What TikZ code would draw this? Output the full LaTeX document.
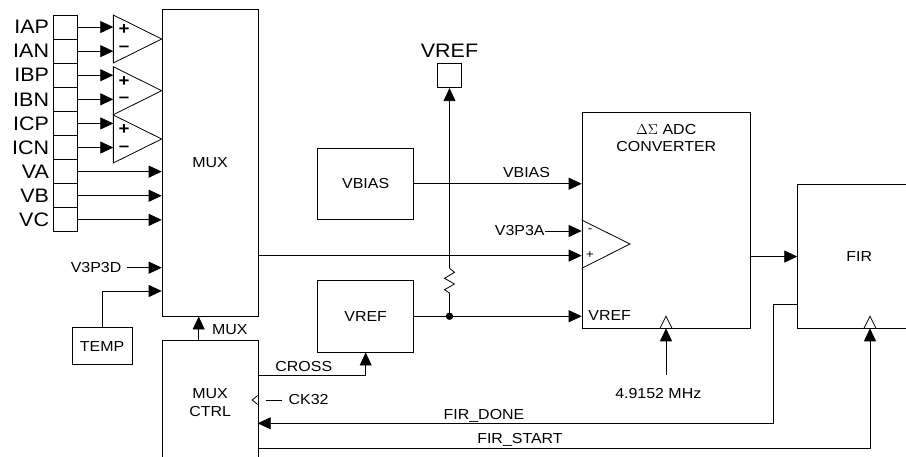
\documentclass[tikz,border=0pt]{standalone}
\usepackage{fontspec}
\setmainfont[FakeStretch=1.1]{Liberation Sans}
\usetikzlibrary{arrows.meta,positioning}

\begin{document}
\begin{tikzpicture}[x=1pt,y=-1pt,line width=0.8pt,
  every node/.style={inner sep=0pt,font=\fontsize{14.5}{16}\selectfont},
  block/.style={draw,rectangle,anchor=north west,align=center},
  pinbox/.style={draw,rectangle,minimum width=24.4pt,minimum height=24.1pt},
  pinlabel/.style={font=\fontsize{19.5}{21}\selectfont},
  sign/.style={font=\fontsize{17}{17}\selectfont\bfseries},
  smallsign/.style={font=\fontsize{12}{12}\selectfont},
  arr/.style={-{Triangle[length=13pt,width=12pt]}}]
\useasboundingbox (0,0) rectangle (906,457);
\clip (0,0) rectangle (906,457);

\foreach \name [count=\i] in {IAP,IAN,IBP,IBN,ICP,ICN,VA,VB,VC} {
  \node[pinbox] (pin\i) at (65.5,{15+24.1*(\i-0.5)}) {};
  \node[pinlabel,left=3.5pt of pin\i] (lbl\i) {\name};
}
\node[pinbox,minimum height=24.4pt] (vrefpin) at (449.5,75.5) {};
\node[pinlabel,above=4.5pt of vrefpin] (vrefpinlbl) {VREF};

\node[block,minimum width=96pt,minimum height=306.4pt] (mux) at (161.7,9.3) {MUX};
\node[block,minimum width=96pt,minimum height=124pt,font=\fontsize{14.5}{18.3}\selectfont] (mctrl) at (161.7,340) {MUX\\CTRL};
\node[block,minimum width=60pt,minimum height=36.7pt] (temp) at (71.7,327.3) {TEMP};
\node[block,minimum width=96pt,minimum height=71.3pt] (vbias) at (317.3,147.7) {VBIAS};
\node[block,minimum width=96pt,minimum height=71.7pt] (vref) at (317.3,280) {VREF};
\node[block,minimum width=168.3pt,minimum height=216.6pt] (adc) at (581.7,111.7) {};
\node[align=center,font=\fontsize{14.5}{17.7}\selectfont,below=12pt of adc.north] (adctxt) {$\Delta\Sigma$ ADC\\CONVERTER};
\node[block,minimum width=123pt,minimum height=144.3pt] (fir) at (797.3,184) {FIR};

\foreach \top [count=\i] in {15,66.7,115} {
  \coordinate (amp\i) at (113.3,\top);
  \draw (amp\i) -- (161.7,{\top+24}) -- (113.3,{\top+48}) -- cycle;
  \draw[line width=1.5pt] (amp\i) -- (113.3,{\top+48});
  \node[sign] at (124,{\top+15}) {+};
  \node[sign] at (124,{\top+33.5}) {--};
}
\foreach \i/\j in {1/1,2/1,3/2,4/2,5/3,6/3}
  \draw[arr] (pin\i.east) -- (pin\i.east -| amp\j);
\foreach \i in {7,8,9}
  \draw[arr] (pin\i.east) -- (pin\i.east -| mux.west);

\node[anchor=east] (v3p3d) at (121.7,267.7) {V3P3D};
\draw[arr] ([xshift=5pt]v3p3d.east) -- (v3p3d.east -| mux.west);
\coordinate (tempin) at (161.7,291);
\draw[arr] (temp.north) |- (tempin);

\draw[arr] ([xshift=-11.4pt]mctrl.north) -- ([xshift=-11.4pt]mux.south);
\node[anchor=west] (muxlbl) at (211.7,330) {MUX};

\coordinate (adcn) at (581.7,231);
\coordinate (adcp) at (581.7,255.6);
\draw (581.7,220) -- (630,244) -- (581.7,268.3);
\node[smallsign] at (590,231) {-};
\node[smallsign] at (590,255) {+};
\node[anchor=east] (v3p3a) at (545,231) {V3P3A};
\draw[arr] (v3p3a.east) -- (adcn);
\draw[arr] (mux.east |- adcp) -- (adcp);

\draw[arr] (vbias.east) -- (vbias.east -| adc.west);
\node[anchor=base] (vbiaslbl) at (526.5,177.5) {VBIAS};

\coordinate (tap) at (vref.east -| vrefpin);
\coordinate (resbot) at (449.5,293);
\coordinate (restop) at (449.5,268.3);
\draw[arr] (vref.east) -- (vref.east -| adc.west);
\fill (tap) circle (3.7);
\draw (tap) -- (resbot) -- ++(-5,-3.3) -- ++(10,-5.7) -- ++(-10,-5.7) -- ++(10,-6) -- (restop);
\draw[arr] (restop) -- (vrefpin.south);
\node[anchor=west] (adcvref) at (588,316) {VREF};

\draw[arr] (adc.east |- fir.west) -- (fir.west);

\coordinate (adcclk) at (666,328.3);
\coordinate (clksrc) at (666,375);
\draw ([xshift=-6pt]adcclk) -- ([yshift=12pt]adcclk) -- ([xshift=6pt]adcclk);
\draw[arr] (clksrc) -- (adcclk);
\node[anchor=north] (clklbl) at (658.3,388.3) {4.9152 MHz};

\coordinate (firclk) at (870,328.3);
\draw ([xshift=-6pt]firclk) -- ([yshift=12pt]firclk) -- ([xshift=6pt]firclk);

\coordinate (crossout) at (257.7,375.7);
\draw[arr] (crossout) -| (vref.south);
\node[anchor=base] (crosslbl) at (303.8,371.3) {CROSS};

\coordinate (ckin) at (257.7,400);
\draw ([yshift=4.5pt]ckin) -- ([xshift=-5.5pt]ckin) -- ([yshift=-4.5pt]ckin);
\draw (265.5,400) -- (281.5,400);
\node[anchor=west] (cklbl) at (288.3,400) {CK32};

\coordinate (doneout) at (797.3,304);
\coordinate (donein) at (257.7,423.3);
\draw[arr] (doneout) -- ++(-24,0) |- (donein);
\node[anchor=base] (donelbl) at (484,419.3) {FIR\_DONE};

\coordinate (startout) at (257.7,448.3);
\draw[arr] (startout) -| (firclk);
\node[anchor=base] (startlbl) at (520,443) {FIR\_START};
\end{tikzpicture}
\end{document}
